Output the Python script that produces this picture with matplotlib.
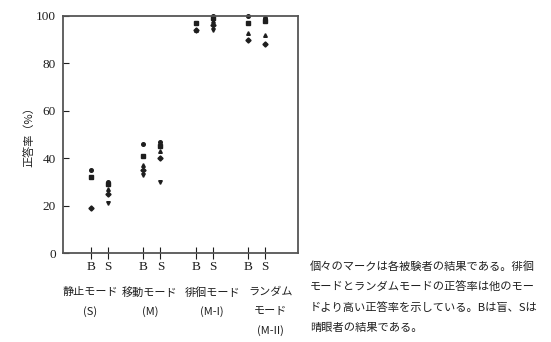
import matplotlib.pyplot as plt

# ---------------------------------------------------------------
# データ
# ---------------------------------------------------------------
modos = ["静止モード", "移動モード", "徘徊モード", "ランダム\nモード"]
modos_sub = ["(S)", "(M)", "(M-I)", "(M-II)"]

# B: 盲, S: 晴眼者 (正答率 %)
acertos_B = [
    [35, 32, 32, 19],
    [46, 41, 37, 35, 33],
    [97, 97, 94, 94],
    [100, 97, 93, 90],
]
acertos_S = [
    [30, 29, 27, 25, 21],
    [47, 45, 43, 40, 30],
    [100, 99, 98, 96, 94],
    [99, 98, 92, 88],
]

legenda = ("個々のマークは各被験者の結果である。徘徊\n"
           "モードとランダムモードの正答率は他のモー\n"
           "ドより高い正答率を示している。Bは盲、Sは\n"
           "晴眼者の結果である。")

# ---------------------------------------------------------------
# 描画
# ---------------------------------------------------------------
plt.rcParams['font.family'] = ['Noto Sans CJK JP', 'DejaVu Sans']
cor = "#1e1e1e"
marcadores = ['o', 's', '^', 'D', 'v']
desloc = 0.163

fig = plt.figure(figsize=(5.51, 3.42), dpi=100)
ax = fig.add_axes([63 / 551, 89 / 342, 235 / 551, 237 / 342])

for i in range(len(modos)):
    centro = i + 1
    for vals, dx in ((acertos_B[i], -desloc), (acertos_S[i], desloc)):
        for k, v in enumerate(vals):
            ax.plot(centro + dx, v, marker=marcadores[k % len(marcadores)],
                    markersize=2.6, color=cor, linestyle='none', clip_on=False)

ax.set_xlim(0.302, 4.79)
ax.set_ylim(0, 100)
ax.set_yticks([0, 20, 40, 60, 80, 100])

pos = []
rot = []
for i in range(len(modos)):
    pos += [i + 1 - desloc, i + 1 + desloc]
    rot += ["B", "S"]
ax.set_xticks(pos)
ax.set_xticklabels(rot, family="Liberation Serif", fontsize=9.5, color=cor)
ax.tick_params(axis='x', direction='inout', length=8, width=0.8, pad=2, colors=cor)
ax.tick_params(axis='y', direction='in', length=4, width=0.8, pad=5, colors=cor)
for lab in ax.get_yticklabels():
    lab.set_family("Liberation Serif")
    lab.set_fontsize(9.5)

for s in ax.spines.values():
    s.set_color("#555555")
    s.set_linewidth(1.3)

ax.set_ylabel("正答率（%）", fontsize=8, color=cor, labelpad=1)

# 各モードの名称（軸の下）
ajuste = [-0.18, -0.04, 0.15, 0.26]
trans = ax.get_xaxis_transform()
for i, (nome, sub) in enumerate(zip(modos, modos_sub)):
    linhas = nome.split("\n") + [sub]
    for j, t in enumerate(linhas):
        ax.text(i + 1 + ajuste[i], -0.165 - 0.081 * j, t, transform=trans,
                ha='center', va='center', fontsize=8, color=cor)

for j, t in enumerate(legenda.split("\n")):
    fig.text(310 / 551, 1 - (267 + 20.3 * j) / 342, t, ha='left', va='center',
             fontsize=8.1, color=cor)

plt.savefig("out.png", dpi=100)
plt.close()
